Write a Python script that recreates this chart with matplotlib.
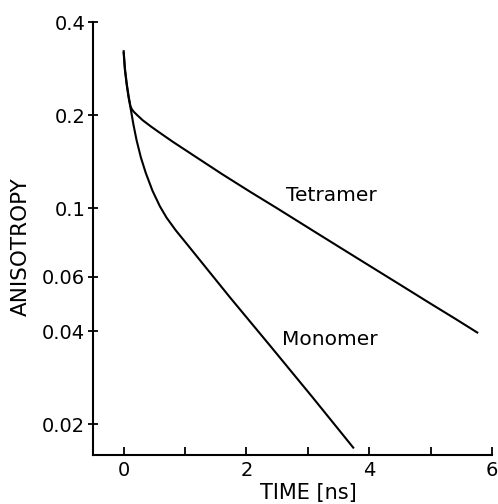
import matplotlib
matplotlib.use('Agg')
import matplotlib.pyplot as plt
from matplotlib.ticker import FixedLocator, NullLocator, FixedFormatter

# anisotropy decay curves
time_tetramer = [0.0, 0.02, 0.05, 0.08, 0.11, 0.13, 0.16, 0.22, 0.31, 0.45, 0.59, 0.80,
                 1.21, 1.60, 2.06, 2.50, 3.07, 3.52, 4.00, 4.50, 5.00, 5.40, 5.76]
r_tetramer = [0.322, 0.284, 0.253, 0.231, 0.214, 0.2095, 0.2055, 0.2000, 0.1925, 0.1834,
              0.1753, 0.1640, 0.1450, 0.1290, 0.1130, 0.0999, 0.0849, 0.0747, 0.0652,
              0.0566, 0.0491, 0.0439, 0.0396]

time_monomer = [0.0, 0.02, 0.05, 0.08, 0.11, 0.16, 0.21, 0.28, 0.36, 0.47, 0.59,
                0.70, 0.85, 1.05, 1.73, 2.38, 3.08, 3.74]
r_monomer = [0.318, 0.280, 0.250, 0.228, 0.212, 0.186, 0.166, 0.146, 0.130, 0.1138,
             0.1014, 0.0931, 0.0847, 0.0757, 0.0515, 0.0360, 0.0244, 0.0168]

y_ticks = [0.02, 0.04, 0.06, 0.1, 0.2, 0.4]
y_ticklabels = ['0.02', '0.04', '0.06', '0.1', '0.2', '0.4']
x_ticks = [0, 2, 4, 6]
x_minor = [1, 3, 5]

fig = plt.figure(figsize=(4.98, 5.04), dpi=100)
ax = fig.add_axes([0.1867, 0.0972, 0.8012, 0.859])

ax.plot(time_tetramer, r_tetramer, color='black', lw=1.5)
ax.plot(time_monomer, r_monomer, color='black', lw=1.5)

ax.set_yscale('log')
ax.set_xlim(-0.5, 6)
ax.set_ylim(0.0159, 0.4)

ax.yaxis.set_major_locator(FixedLocator(y_ticks))
ax.yaxis.set_major_formatter(FixedFormatter(y_ticklabels))
ax.yaxis.set_minor_locator(NullLocator())
ax.xaxis.set_major_locator(FixedLocator(x_ticks))
ax.xaxis.set_minor_locator(FixedLocator(x_minor))

ax.tick_params(axis='y', which='major', direction='inout', length=7, width=1.3,
               labelsize=14, pad=2)
ax.tick_params(axis='x', which='both', direction='in', length=6, width=1.3,
               labelsize=14, pad=4)

for side in ['top', 'right']:
    ax.spines[side].set_visible(False)
for side in ['left', 'bottom']:
    ax.spines[side].set_linewidth(1.5)

ax.text(2.64, 0.110, 'Tetramer', fontsize=14.5, va='center', ha='left')
ax.text(2.58, 0.0375, 'Monomer', fontsize=14.5, va='center', ha='left')

fig.text(308 / 498, 1 - 493 / 504, 'TIME [ns]', fontsize=15, ha='center', va='center')
fig.text(21 / 498, 1 - 247 / 504, 'ANISOTROPY', fontsize=15.5, ha='center', va='center',
         rotation=90)

fig.savefig('out.png', dpi=100)
